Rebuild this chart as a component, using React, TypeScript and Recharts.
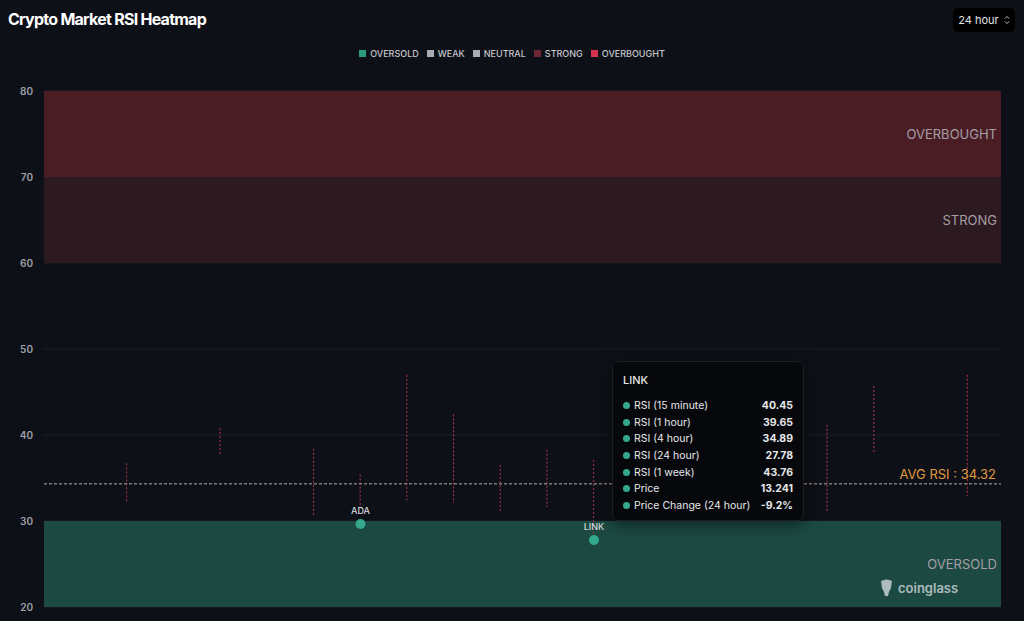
import React from 'react'
import {
  ComposedChart, Bar, Line, XAxis, YAxis, CartesianGrid, ReferenceArea, ReferenceLine,
} from 'recharts'

const C = {
  bg: '#0e1017', text: '#e8eaf0', dim: '#9ba0aa', grid: '#1b1e27',
  overbought: '#4a1d25', strong: '#2d1a21', oversold: '#1c4a43',
  range: '#b8354e', dot: '#33a88c', avg: '#e09a3c', bandText: '#a39fa5',
}

// coin slots along the x axis
const coinSlots = [1, 3, 5, 6, 7, 8, 9, 10, 11, 16, 17, 19]
const rsiLow = [32.1, 37.7, 30.7, 31.6, 32.4, 32.1, 30.9, 31.6, 27.8, 31.0, 37.9, 32.9]
const rsiHigh = [36.7, 40.8, 38.4, 35.4, 47.0, 42.4, 36.5, 38.3, 37.1, 41.2, 45.7, 47.0]

const dotNames = ['ADA', 'LINK']
const dotSlots = [6, 11]
const dotRsi = [29.65, 27.78]

const yTicks = [20, 30, 40, 50, 60, 70, 80]
const avgRsi = 34.32

const legendNames = ['OVERSOLD', 'WEAK', 'NEUTRAL', 'STRONG', 'OVERBOUGHT']
const legendColors = ['#2a9a7c', '#a9abb0', '#a9abb0', '#6e2632', '#d8334c']

const tipName = 'LINK'
const tipLabels = ['RSI (15 minute)', 'RSI (1 hour)', 'RSI (4 hour)', 'RSI (24 hour)', 'RSI (1 week)', 'Price', 'Price Change (24 hour)']
const tipValues = ['40.45', '39.65', '34.89', '27.78', '43.76', '13.241', '-9.2%']

const data = coinSlots.map((s, i) => {
  const d = dotSlots.indexOf(s)
  return {
    i: s,
    range: [rsiLow[i], rsiHigh[i]],
    dot: d >= 0 ? dotRsi[d] : null,
    name: d >= 0 ? dotNames[d] : '',
  }
})

const FONT = 'Inter, "Noto Sans", sans-serif'

function RangeShape(props: any) {
  const { x, y, width, height } = props
  if (x == null || y == null) return null
  const cx = x + width / 2
  return <line x1={cx} x2={cx} y1={y} y2={y + height} stroke={C.range} strokeWidth={1} strokeDasharray="2 2" />
}

function CoinDot(props: any) {
  const { cx, cy, payload } = props
  if (cx == null || cy == null || payload?.dot == null) return <g key={props.index} />
  return (
    <g key={props.index}>
      <circle cx={cx} cy={cy} r={5} fill={C.dot} />
      <text x={cx} y={cy - 10} textAnchor="middle" fill="#d6d8de" fontSize={9} fontFamily={FONT} fontWeight={500}>{payload.name}</text>
    </g>
  )
}

export default function App() {
  return (
    <div style={{ position: 'relative', width: 1024, height: 621, background: C.bg, fontFamily: FONT, overflow: 'hidden' }}>
      <style>{'body{margin:0;background:#0e1017}'}</style>
      <div style={{ position: 'absolute', left: 8, top: 9, color: '#fff', fontSize: 16, fontWeight: 700, letterSpacing: -0.75 }}>
        Crypto Market RSI Heatmap
      </div>
      <div style={{
        position: 'absolute', left: 953, top: 8, width: 62, height: 24, background: '#000', borderRadius: 5,
        color: '#e6e7ea', fontSize: 11, display: 'flex', alignItems: 'center', justifyContent: 'center', gap: 5,
      }}>
        <span>24 hour</span>
        <svg width={6} height={10} viewBox="0 0 6 10">
          <path d="M0.8 3.6 L3 1.4 L5.2 3.6 M0.8 6.4 L3 8.6 L5.2 6.4" stroke="#b8bac0" strokeWidth={1} fill="none" />
        </svg>
      </div>
      {/* legend */}
      <div style={{ position: 'absolute', left: 0, top: 48, width: 1024, display: 'flex', justifyContent: 'center', gap: 8 }}>
        {legendNames.map((n, i) => (
          <div key={n} style={{ display: 'flex', alignItems: 'center', gap: 4, fontSize: 9, color: '#c4c6cc', fontWeight: 500 }}>
            <span style={{ width: 7, height: 7, background: legendColors[i], display: 'inline-block' }} />
            {n}
          </div>
        ))}
      </div>

      <div style={{ position: 'absolute', left: 0, top: 0 }}>
        <ComposedChart width={1024} height={621} data={data} margin={{ top: 91, right: 23, bottom: 14, left: 10 }}>
          <CartesianGrid vertical={false} stroke={C.grid} />
          <XAxis dataKey="i" type="number" domain={[-0.777, 19.715]} hide allowDataOverflow />
          <YAxis
            domain={[20, 80]} ticks={yTicks} width={34} axisLine={false} tickLine={false} tickSize={0} tickMargin={11}
            tick={{ fill: C.dim, fontSize: 10, fontWeight: 600, fontFamily: FONT }}
          />
          <ReferenceArea y1={70} y2={80} fill={C.overbought} fillOpacity={1} stroke="none"
            label={{ value: 'OVERBOUGHT', position: 'insideRight', offset: 4, fill: C.bandText, fontSize: 13, fontFamily: FONT }} />
          <ReferenceArea y1={60} y2={70} fill={C.strong} fillOpacity={1} stroke="none"
            label={{ value: 'STRONG', position: 'insideRight', offset: 4, fill: C.bandText, fontSize: 13, fontFamily: FONT }} />
          <ReferenceArea y1={20} y2={30} fill={C.oversold} fillOpacity={1} stroke="none"
            label={{ value: 'OVERSOLD', position: 'insideRight', offset: 4, fill: C.bandText, fontSize: 13, fontFamily: FONT }} />
          <ReferenceLine y={avgRsi} stroke="#b7aaa6" strokeDasharray="3 2" strokeWidth={1}
            label={{ value: `AVG RSI : ${avgRsi}`, position: 'insideBottomRight', offset: 5, fill: C.avg, fontSize: 13, fontFamily: FONT }} />
          <Bar dataKey="range" barSize={4} shape={<RangeShape />} isAnimationActive={false} />
          <Line dataKey="dot" stroke="none" dot={<CoinDot />} activeDot={false} isAnimationActive={false} connectNulls={false} />
        </ComposedChart>
      </div>

      {/* watermark */}
      <div style={{ position: 'absolute', left: 879, top: 579, display: 'flex', alignItems: 'center', gap: 4, color: 'rgba(230,232,236,0.72)', fontSize: 13, fontWeight: 600 }}>
        <svg width={15} height={18} viewBox="0 0 15 18">
          <path d="M2 2 Q7.5 -1 13 2 L12 9 Q10 12 9 17 L6 17 Q5 12 3 9 Z" fill="rgba(230,232,236,0.72)" />
        </svg>
        coinglass
      </div>

      {/* tooltip */}
      <div style={{
        position: 'absolute', left: 612, top: 361, width: 192, height: 160, boxSizing: 'border-box',
        background: '#07080b', border: '1px solid #1a1d25', borderRadius: 6, padding: '11px 10px 0 10px',
        boxShadow: '0 4px 16px rgba(0,0,0,0.5)', color: '#e6e7ea', fontSize: 10.5,
      }}>
        <div style={{ fontSize: 11, fontWeight: 500, marginBottom: 10 }}>{tipName}</div>
        {tipLabels.map((l, i) => (
          <div key={l} style={{ display: 'flex', alignItems: 'center', height: 16.7 }}>
            <span style={{ width: 7, height: 7, borderRadius: 4, background: C.dot, marginRight: 4 }} />
            <span style={{ flex: 1 }}>{l}</span>
            <span style={{ fontWeight: 700 }}>{tipValues[i]}</span>
          </div>
        ))}
      </div>
    </div>
  )
}
